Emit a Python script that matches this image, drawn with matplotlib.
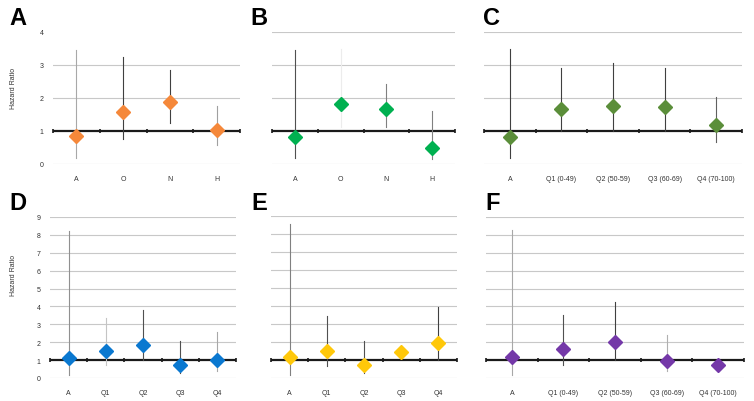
import matplotlib
matplotlib.use("Agg")
import matplotlib.pyplot as plt
import numpy as np

plt.rcParams['font.family'] = ['Liberation Sans', 'DejaVu Sans']

# categories
cats_aonh = ["A", "O", "N", "H"]
cats_q_range = ["A", "Q1 (0-49)", "Q2 (50-59)", "Q3 (60-69)", "Q4 (70-100)"]
cats_q = ["A", "Q1", "Q2", "Q3", "Q4"]

# hazard ratios with lower / upper CI
hr_a = [0.85, 1.57, 1.88, 1.03]
lo_a = [0.18, 0.76, 1.24, 0.58]
hi_a = [3.45, 3.24, 2.85, 1.75]

hr_b = [0.82, 1.82, 1.66, 0.48]
lo_b = [0.18, 1.12, 1.13, 0.15]
hi_b = [3.45, 3.48, 2.42, 1.60]

hr_c = [0.82, 1.66, 1.75, 1.72, 1.18]
lo_c = [0.18, 1.00, 1.00, 1.00, 0.68]
hi_c = [3.50, 2.90, 3.05, 2.90, 2.03]

hr_d = [1.10, 1.52, 1.84, 0.73, 1.02]
lo_d = [0.17, 0.73, 1.00, 0.28, 0.40]
hi_d = [8.20, 3.33, 3.80, 2.07, 2.57]

hr_e = [1.17, 1.50, 0.73, 1.45, 1.95]
lo_e = [0.17, 0.67, 0.28, 1.30, 1.00]
hi_e = [8.55, 3.46, 2.07, 1.60, 3.95]

hr_f = [1.17, 1.60, 2.00, 0.97, 0.75]
lo_f = [0.17, 0.72, 1.00, 0.40, 0.70]
hi_f = [8.30, 3.50, 4.25, 2.40, 0.80]

fig = plt.figure(figsize=(7.54, 4.02), dpi=100)
W, H = 754.0, 402.0


def panel(rect, cats, hr, lo, hi, color, ci_colors, ymax, letter, letter_xy,
          ytick_labels, top_grid=True):
    x0, y_top, w, y_bot = rect
    ax = fig.add_axes([x0 / W, (H - y_bot) / H, w / W, (y_bot - y_top) / H])
    n = len(cats)
    x = np.arange(n)
    ax.set_xlim(-0.5, n - 0.5)
    ax.set_ylim(0, ymax)
    for s in ax.spines.values():
        s.set_visible(False)
    # gridlines
    for v in range(0, ymax + 1):
        if v == 1 or (v == ymax and not top_grid):
            continue
        ax.axhline(v, color="#c8c8c8", lw=0.8, zorder=0)
    # reference line at HR = 1 with category ticks
    ax.axhline(1, color="#1a1a1a", lw=1.6, zorder=1)
    ax.plot(np.arange(n + 1) - 0.5, np.ones(n + 1), ls="none", marker="|",
            ms=3, mew=1.2, color="#1a1a1a", zorder=1, clip_on=False)
    # confidence intervals
    for i in range(n):
        ax.plot([x[i], x[i]], [lo[i], hi[i]], color=ci_colors[i], lw=0.8,
                zorder=2, clip_on=False)
    ax.plot(x, hr, ls="none", marker="D", ms=7.5, color=color, mec=color,
            zorder=3, clip_on=False)
    ax.set_xticks(x)
    ax.set_xticklabels(cats, fontsize=5, color="#333333")
    ax.tick_params(axis="x", length=0, pad=8)
    if ytick_labels:
        ax.set_yticks(range(0, ymax + 1))
        ax.set_yticklabels([str(v) for v in range(0, ymax + 1)], fontsize=5, color="#333333")
        ax.tick_params(axis="y", length=0, pad=7)
    else:
        ax.set_yticks([])
    fig.text(letter_xy[0] / W, 1 - letter_xy[1] / H, letter, fontsize=17,
             fontweight="bold", ha="left", va="top")
    return ax


panel((53, 33, 187, 165), cats_aonh, hr_a, lo_a, hi_a, "#F5883A",
      ["#a8a8a8", "#404040", "#404040", "#a0a0a0"], 4, "A", (9, 7), True, False)
panel((272, 33, 183, 165), cats_aonh, hr_b, lo_b, hi_b, "#00B050",
      ["#505050", "#ececec", "#808080", "#808080"], 4, "B", (250, 7), False)
panel((484, 33, 258, 165), cats_q_range, hr_c, lo_c, hi_c, "#5B8E3A",
      ["#404040", "#404040", "#404040", "#404040", "#606060"], 4, "C", (483, 7), False)
panel((50, 218, 186, 379), cats_q, hr_d, lo_d, hi_d, "#0A78D0",
      ["#909090", "#c4c4c4", "#505050", "#505050", "#a8a8a8"], 9, "D", (9, 192), True)
panel((271, 217, 186, 379), cats_q, hr_e, lo_e, hi_e, "#FFC80A",
      ["#808080", "#505050", "#505050", "#f2f2f2", "#404040"], 9, "E", (251, 192), False)
panel((486, 218, 258, 379), cats_q_range, hr_f, lo_f, hi_f, "#7438A8",
      ["#a8a8a8", "#505050", "#404040", "#b0b0b0", "#f2f2f2"], 9, "F", (485, 192), False)

fig.text(14 / W, 1 - 88 / H, "Hazard Ratio", rotation=90, fontsize=5,
         color="#333333", ha="center", va="center")
fig.text(14 / W, 1 - 275 / H, "Hazard Ratio", rotation=90, fontsize=5,
         color="#333333", ha="center", va="center")

fig.savefig("out.png", dpi=100)
